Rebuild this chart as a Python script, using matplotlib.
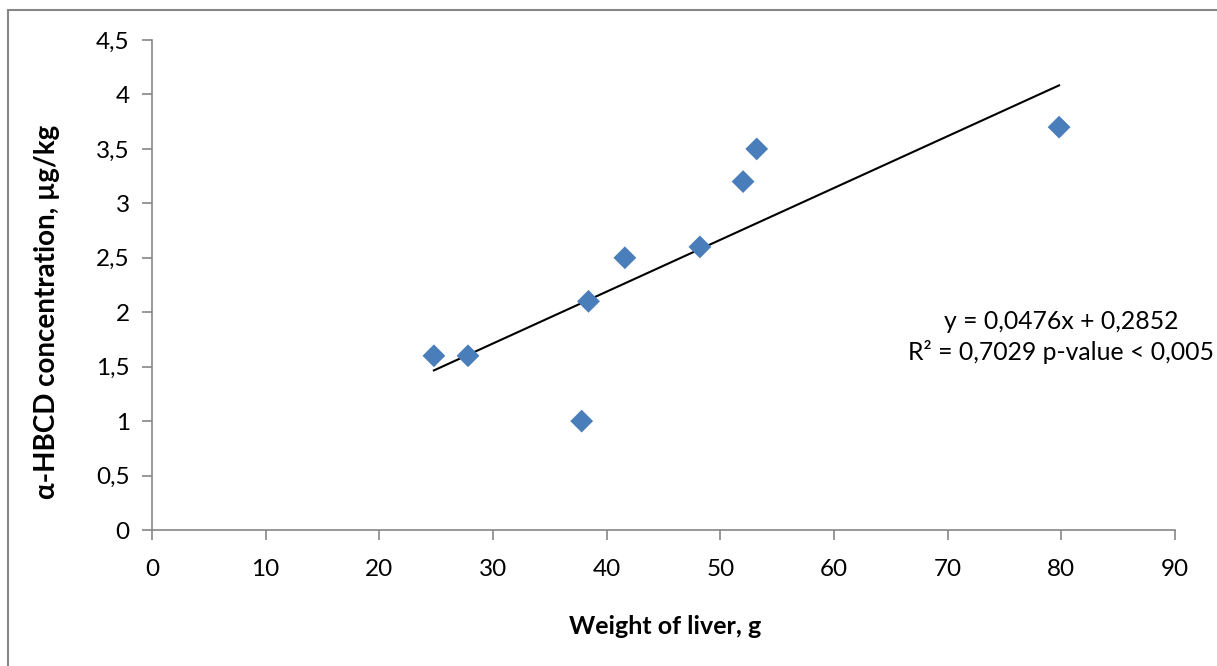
import numpy as np
import matplotlib
matplotlib.use("Agg")
import matplotlib.pyplot as plt
from matplotlib.ticker import FuncFormatter, MultipleLocator
from matplotlib.patches import Rectangle

plt.rcParams['font.family'] = ['Lato', 'DejaVu Sans']

# data
liver_weight = [24.8, 27.8, 37.8, 38.4, 41.6, 48.2, 52.0, 53.2, 79.8]
hbcd_conc = [1.6, 1.6, 1.0, 2.1, 2.5, 2.6, 3.2, 3.5, 3.7]
slope = 0.0476
intercept = 0.2852
fit_text = "y = 0,0476x + 0,2852\nR² = 0,7029 p-value < 0,005"

axis_grey = "#868686"

fig = plt.figure(figsize=(12.17, 6.66), dpi=100)
ax = fig.add_axes([0.1249, 0.2042, 0.8406, 0.7357])

# outer chart frame (cut off at right / bottom)
fig.patches.append(Rectangle((8 / 1217, -0.1), 1.2, 1 - 10 / 666 + 0.1,
                             transform=fig.transFigure, fill=False,
                             edgecolor=axis_grey, lw=1.5))

ax.scatter(liver_weight, hbcd_conc, marker="D", s=135, color="#4a7ebb",
           edgecolors="none", zorder=3)

# trend line
xs = np.array([min(liver_weight), max(liver_weight)])
ax.plot(xs, slope * xs + intercept, color="black", lw=1.5, zorder=2)

ax.set_xlim(0, 90)
ax.set_ylim(0, 4.5)
ax.xaxis.set_major_locator(MultipleLocator(10))
ax.yaxis.set_major_locator(MultipleLocator(0.5))
comma = FuncFormatter(lambda v, p: ("%g" % v).replace(".", ","))
ax.xaxis.set_major_formatter(comma)
ax.yaxis.set_major_formatter(comma)

for s in ["top", "right"]:
    ax.spines[s].set_visible(False)
for s in ["left", "bottom"]:
    ax.spines[s].set_color(axis_grey)
    ax.spines[s].set_linewidth(1.2)
ax.tick_params(axis="both", colors=axis_grey, labelcolor="black",
               labelsize=17.5, length=7, width=1.2, direction="out")
ax.tick_params(axis="x", pad=14)
ax.tick_params(axis="y", pad=9)

fig.text(665 / 1217, 1 - 627 / 666, "Weight of liver, g", fontsize=18,
         fontweight="bold", ha="center", va="center")
fig.text(47 / 1217, 1 - 312 / 666, "α-HBCD concentration, µg/kg", fontsize=20,
         fontweight="bold", ha="center", va="center", rotation=90)

ax.text(80.0, 1.77, fit_text, fontsize=17.8, ha="center",
        va="center", multialignment="center", linespacing=1.35)

fig.savefig("out.png", dpi=100)
